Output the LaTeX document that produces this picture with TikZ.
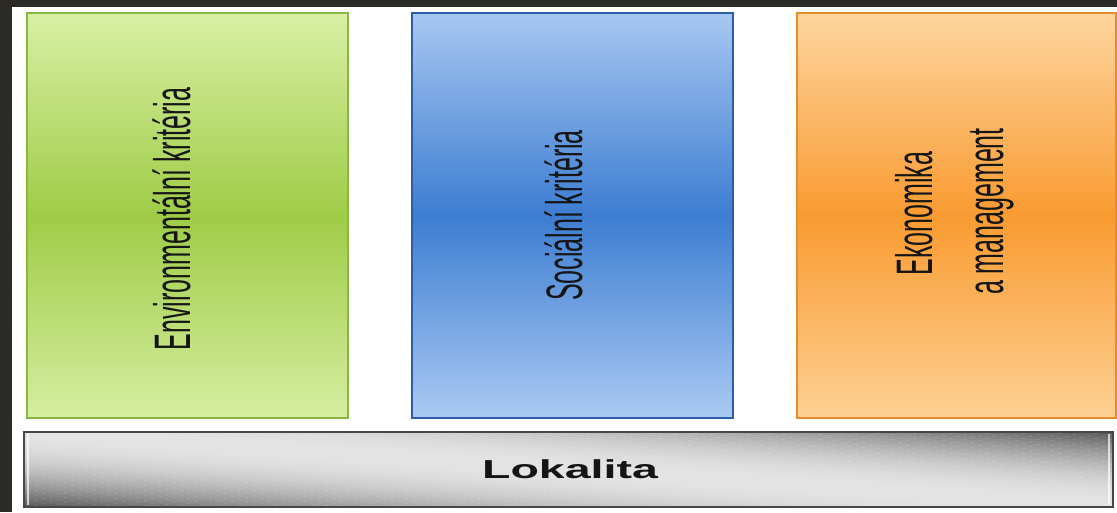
\documentclass[tikz,border=0pt]{standalone}
\usepackage{fontspec}
\setmainfont{Liberation Sans}
\definecolor{framedark}{HTML}{2B2A24}
\definecolor{greentop}{HTML}{D8F0A4}
\definecolor{greenmid}{HTML}{9FCC47}
\definecolor{greenbot}{HTML}{D5EEA0}
\definecolor{greenline}{HTML}{88B842}
\definecolor{bluetop}{HTML}{A7C7F1}
\definecolor{bluemid}{HTML}{3D7DD1}
\definecolor{bluebot}{HTML}{AACAF3}
\definecolor{blueline}{HTML}{2B5EA6}
\definecolor{orgtop}{HTML}{FDD59E}
\definecolor{orgmid}{HTML}{F99B31}
\definecolor{orgbot}{HTML}{FDD093}
\definecolor{orgline}{HTML}{E58C2C}
\definecolor{barline}{HTML}{474747}
\definecolor{txt}{HTML}{151515}
\begin{document}
\begin{tikzpicture}[x=1pt,y=-1pt,
  colbox/.style={rectangle, inner sep=0pt, outer sep=0pt, line width=2pt,
    minimum width=321pt, minimum height=405pt},
  vlabel/.style={xscale=2.05, rotate=90, anchor=base, inner sep=0pt,
    font=\fontsize{25}{30}\selectfont, text=txt}]
\useasboundingbox (0,0) rectangle (1117,512);
\fill[framedark] (0,0) rectangle (1117,512);
\fill[white] (12,7) rectangle (1117,512);

% three columns
\node[colbox, draw=greenline, top color=greentop, bottom color=greenbot, middle color=greenmid] (env) at (187.5,215.5) {};
\node[colbox, draw=blueline, line width=2.6pt, top color=bluetop, bottom color=bluebot, middle color=bluemid] (soc) at (572.5,215.5) {};
\node[colbox, draw=orgline, minimum width=319pt, top color=orgtop, bottom color=orgbot, middle color=orgmid] (eko) at (956,215.5) {};

% Lokalita bar gradient (diagonal)
\begin{scope}
\clip (24,432) rectangle (1113,507);
\foreach \i in {0,...,60}{
  \pgfmathsetmacro\s{-75+\i*2.5}
  \pgfmathsetmacro\t{abs(\s+1.25)/75}
  \pgfmathtruncatemacro\g{228-140*\t*\t}
  \fill[color={rgb,255:red,\g;green,\g;blue,\g}]
    (24,432+\s) -- (1113,507+\s) -- (1113,507+\s+2.8) -- (24,432+\s+2.8) -- cycle;
}
\draw[white, opacity=0.7, line width=2pt] (28,434) -- (28,505);
\draw[white, opacity=0.7, line width=2pt] (1109,434) -- (1109,505);
\end{scope}
\node[rectangle, draw=barline, line width=2pt, inner sep=0pt, minimum width=1089pt, minimum height=75pt] (lok) at (568.5,469.5) {};

% labels
\begin{scope}[shift={(190,219)}]
\node[vlabel] (envt) at (0,0) {Environmentální kritéria};
\end{scope}
\begin{scope}[shift={(582,215.5)}]
\node[vlabel] (soct) at (0,0) {Sociální kritéria};
\end{scope}
\begin{scope}[shift={(932,213.5)}]
\node[vlabel] (ekot1) at (0,0) {Ekonomika};
\end{scope}
\begin{scope}[shift={(1003,211.5)}]
\node[vlabel] (ekot2) at (0,0) {a management};
\end{scope}
\begin{scope}[shift={(570,478)}]
\node[xscale=1.79, anchor=base, inner sep=0pt, font=\fontsize{26}{30}\selectfont\bfseries, text=txt] (lokt) at (0,0) {Lokalita};
\end{scope}
\end{tikzpicture}
\end{document}
